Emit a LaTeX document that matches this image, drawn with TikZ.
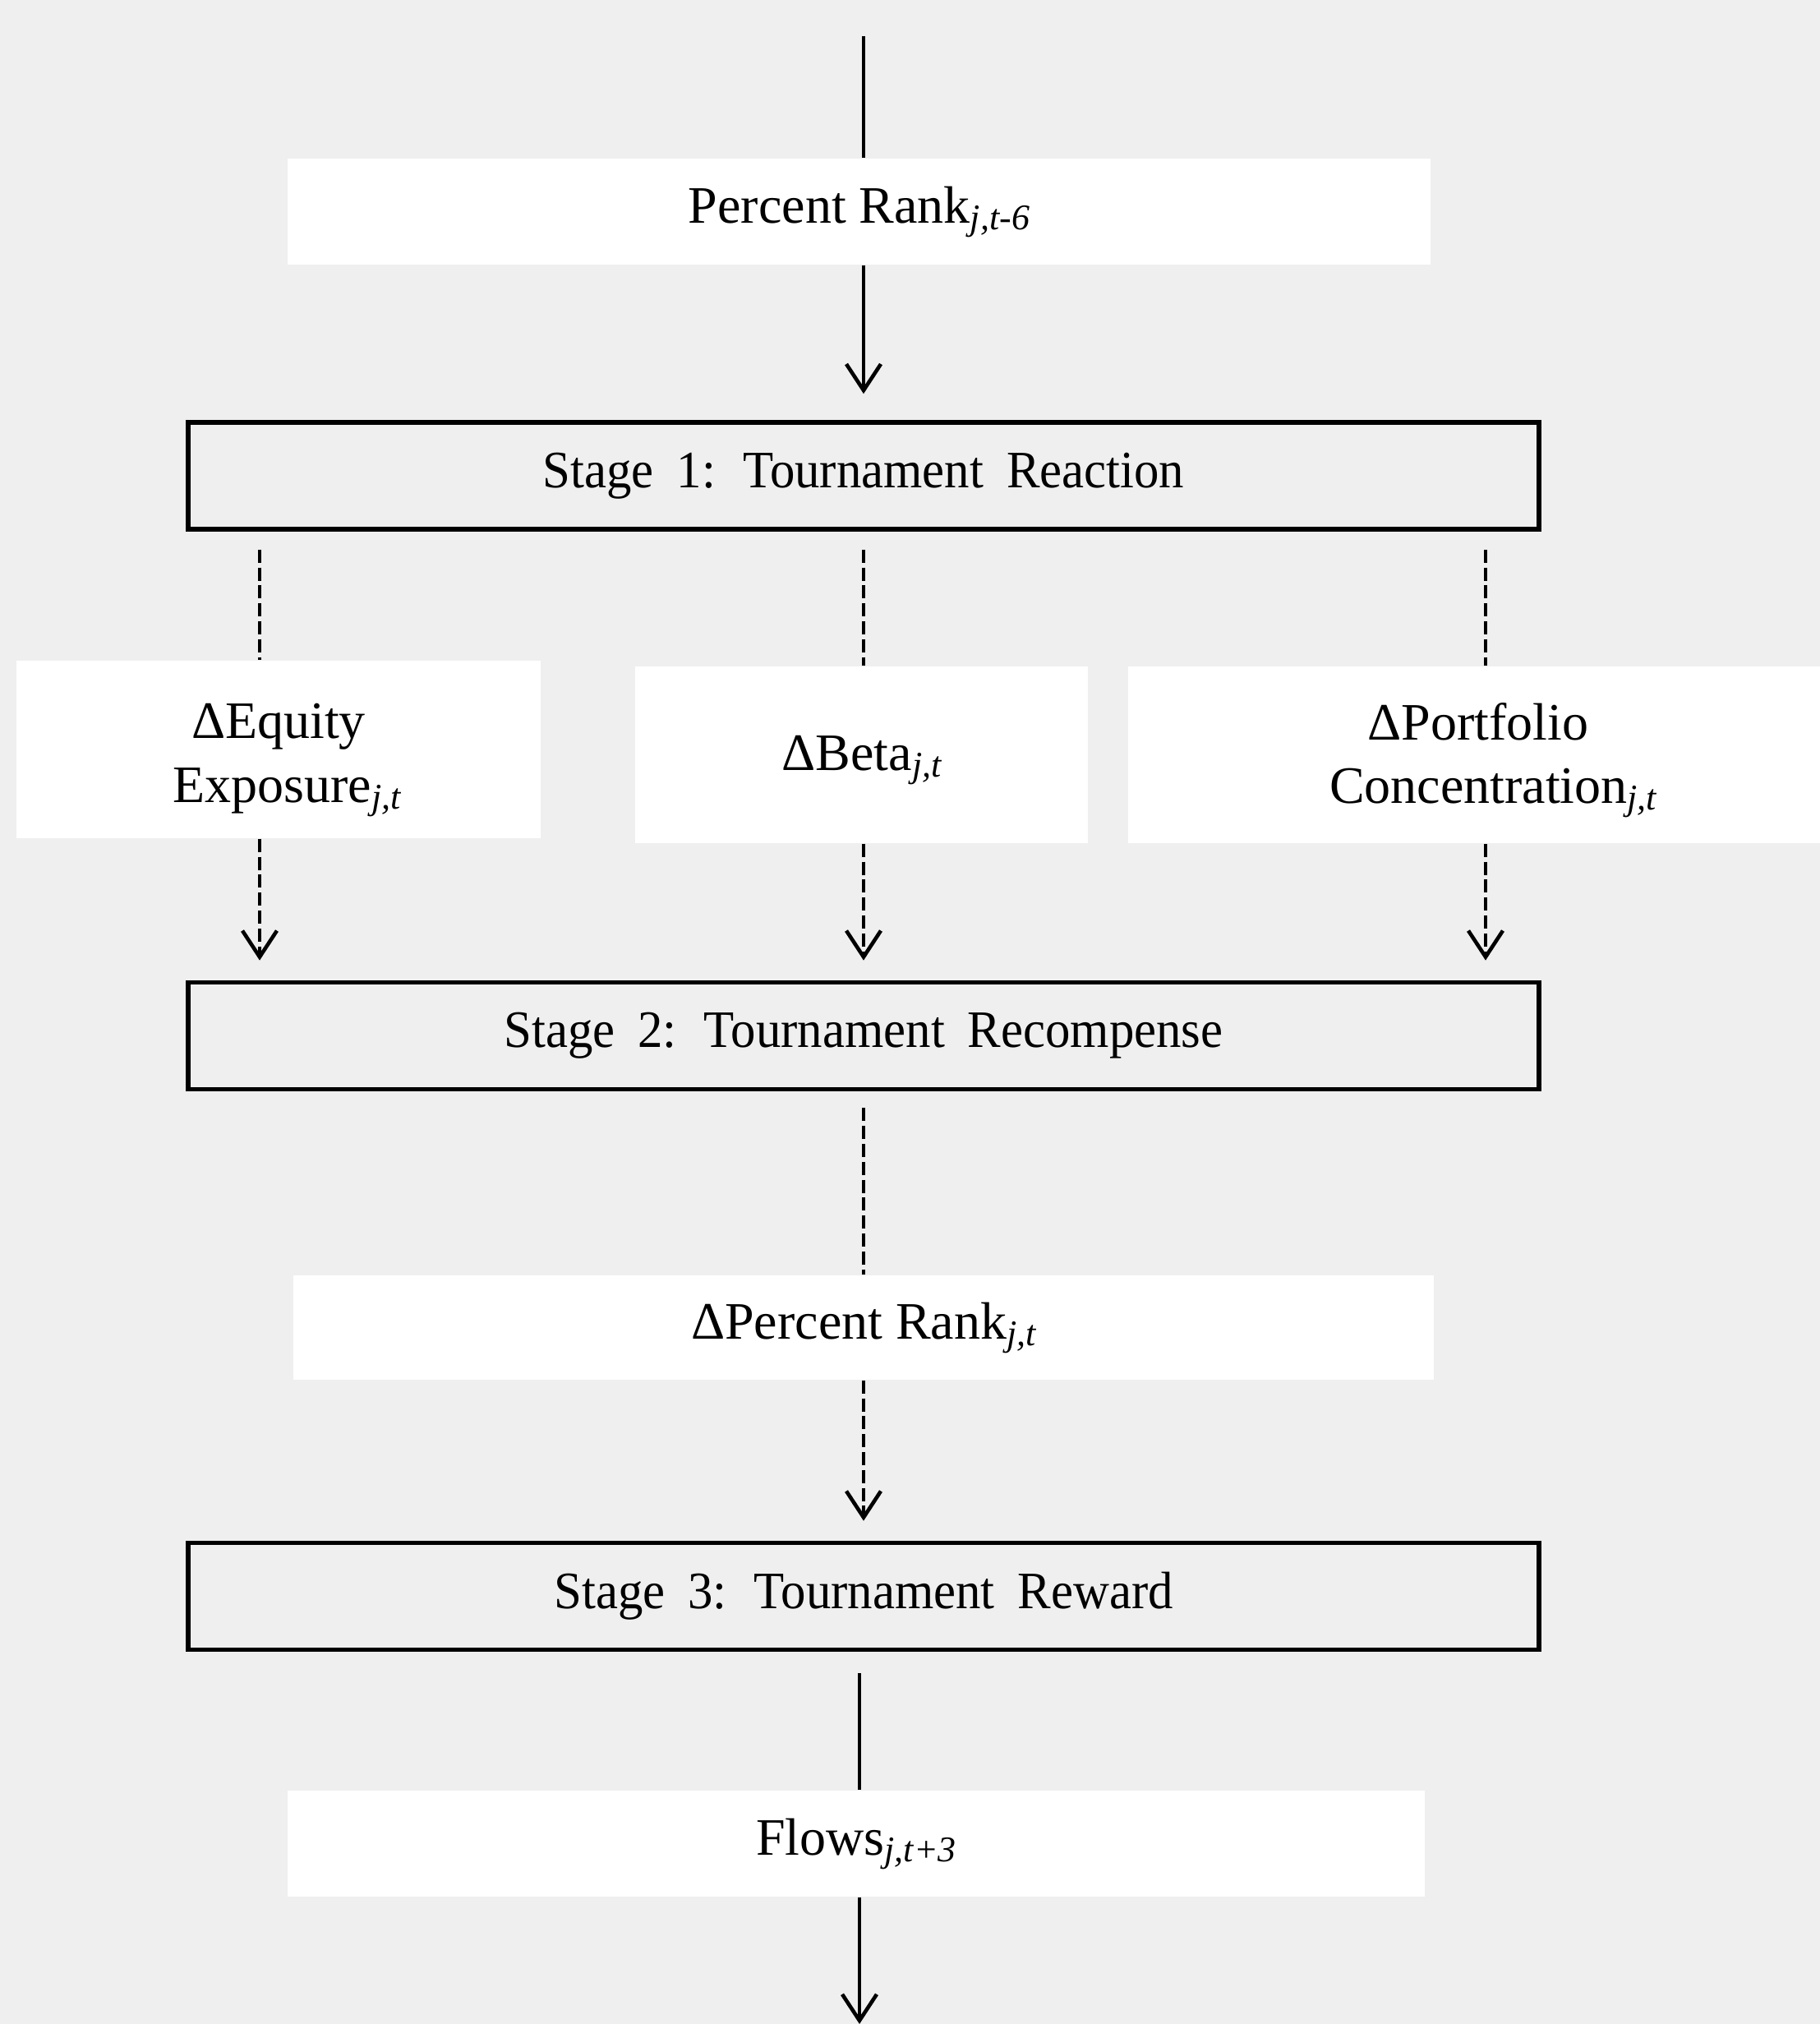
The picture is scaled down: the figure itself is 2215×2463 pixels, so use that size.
\documentclass[tikz,border=0pt]{standalone}
\usepackage{fontspec}
\setmainfont{Liberation Serif}
\newfontfamily\stagefam[FakeStretch=0.95]{Liberation Serif}
\usetikzlibrary{arrows.meta}
\definecolor{bg}{RGB}{239,239,239}
\newcommand{\subtxt}[1]{\raisebox{-2pt}{\fontsize{11}{12}\selectfont\itshape #1}}
\newcommand{\stagefont}{\stagefam\fontsize{16}{19}\selectfont\spaceskip 7pt plus 1pt\relax}

\begin{document}
\begin{tikzpicture}[x=0.25pt,y=-0.25pt,
  lbl/.style={fill=white, inner sep=0pt, align=center, font=\fontsize{16}{19.3}\selectfont},
  txt/.style={inner sep=0pt, align=center, font=\fontsize{16}{19.3}\selectfont},
  stagebox/.style={draw=black, line width=1.4pt, fill=bg, inner sep=0pt, minimum width=411pt, minimum height=32.5pt, font=\stagefont},
  conn/.style={line width=1.15pt, draw=black},
  dashconn/.style={conn, dash pattern=on 4pt off 1.45pt},
  tip/.style={-{Straight Barb[length=8pt,width=10.5pt]}}
]
\path[use as bounding box, fill=bg] (0,0) rectangle (2215,2463);

% nodes
\node[lbl, minimum width=347.75pt, minimum height=32.25pt] (pr) at (1045.5,257.5) {Percent Rank\subtxt{j,t-6}};
\node[stagebox] (s1) at (1051,579) {Stage 1: Tournament Reaction};
\node[lbl, minimum width=159.5pt, minimum height=54pt] (eq) at (339,912) {};
\node[lbl, minimum width=137.75pt, minimum height=53.75pt] (beta) at (1048.5,918.5) {};
\node[lbl, minimum width=213pt, minimum height=53.75pt] (port) at (1799,918.5) {};
\node[txt, yshift=-3.25pt] (eqtxt) at (eq.center) {ΔEquity\\\hspace*{5pt}Exposure\subtxt{j,t}};
\node[txt, yshift=-1.75pt] (betatxt) at (beta.center) {ΔBeta\subtxt{j,t}};
\node[txt, yshift=-1.6pt] (porttxt) at (port.center) {ΔPortfolio\\\hspace*{9pt}Concentration\subtxt{j,t}};
\node[stagebox] (s2) at (1051,1260.5) {Stage 2: Tournament Recompense};
\node[lbl, minimum width=347pt, minimum height=31.75pt] (dpr) at (1051,1615.5) {ΔPercent Rank\subtxt{j,t}};
\node[stagebox] (s3) at (1051,1942.5) {Stage 3: Tournament Reward};
\node[lbl, minimum width=346pt, minimum height=32.25pt] (fl) at (1042,2243.5) {Flows\subtxt{j,t+3}};

% column coordinates
\coordinate (top) at (1051,44);
\coordinate (cL) at (316,0);
\coordinate (cM) at (1051,0);
\coordinate (cR) at (1808,0);
\coordinate (cB) at (1046,0);
\coordinate (bot) at (1046,2463);

% connectors
\draw[conn] (top) -- (top |- pr.north);
\draw[conn, tip, shorten >=8pt] (cM |- pr.south) -- (cM |- s1.north);

\draw[dashconn, shorten <=5.5pt] (cL |- s1.south) -- (cL |- eq.north);
\draw[dashconn, shorten <=5.5pt] (cM |- s1.south) -- (cM |- beta.north);
\draw[dashconn, shorten <=5.5pt] (cR |- s1.south) -- (cR |- port.north);

\draw[dashconn, tip, shorten >=6pt] (cL |- eq.south) -- (cL |- s2.north);
\draw[dashconn, tip, shorten >=6pt] (cM |- beta.south) -- (cM |- s2.north);
\draw[dashconn, tip, shorten >=6pt] (cR |- port.south) -- (cR |- s2.north);

\draw[dashconn, shorten <=5pt] (cM |- s2.south) -- (cM |- dpr.north);
\draw[dashconn, tip, shorten >=6pt] (cM |- dpr.south) -- (cM |- s3.north);

\draw[conn, shorten <=6.5pt] (cB |- s3.south) -- (cB |- fl.north);
\draw[conn, tip] (cB |- fl.south) -- (bot);
\end{tikzpicture}
\end{document}
